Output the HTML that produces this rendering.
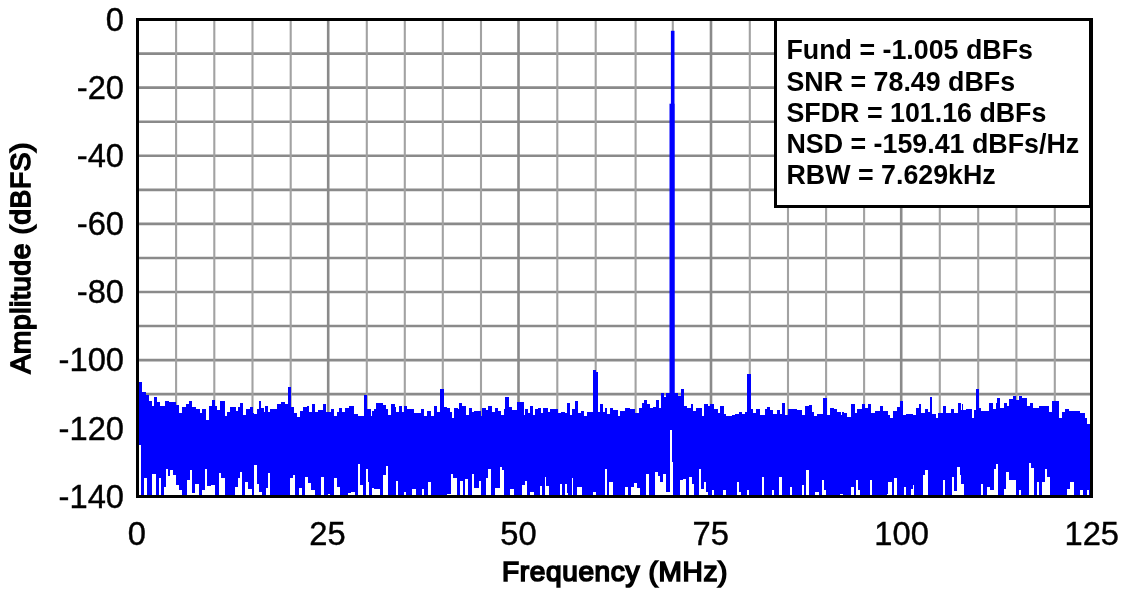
<!DOCTYPE html>
<html><head><meta charset="utf-8"><title>FFT Spectrum</title>
<style>
html,body{margin:0;padding:0;background:#fff;}
body{width:1125px;height:592px;overflow:hidden;}
svg{display:block;}
.tick{font-family:"Liberation Sans",Arial,sans-serif;font-size:32.7px;fill:#000;stroke:#000;stroke-width:0.4px;}
.leg{font-family:"Liberation Sans",Arial,sans-serif;font-size:26.8px;font-weight:bold;fill:#000;}
.ttl{font-family:"Liberation Sans",Arial,sans-serif;font-size:28px;fill:#000;stroke:#000;stroke-width:1.7px;letter-spacing:0.65px;}
</style></head>
<body>
<svg width="1125" height="592" viewBox="0 0 1125 592" shape-rendering="crispEdges">
<rect width="1125" height="592" fill="#fff"/>
<g shape-rendering="geometricPrecision"><line x1="137" y1="53.62" x2="1092" y2="53.62" stroke="#8a8a8a" stroke-width="2.6"/>
<line x1="137" y1="87.67" x2="1092" y2="87.67" stroke="#8a8a8a" stroke-width="2.6"/>
<line x1="137" y1="121.72" x2="1092" y2="121.72" stroke="#8a8a8a" stroke-width="2.6"/>
<line x1="137" y1="155.78" x2="1092" y2="155.78" stroke="#8a8a8a" stroke-width="2.6"/>
<line x1="137" y1="189.83" x2="1092" y2="189.83" stroke="#8a8a8a" stroke-width="2.6"/>
<line x1="137" y1="223.89" x2="1092" y2="223.89" stroke="#8a8a8a" stroke-width="2.6"/>
<line x1="137" y1="257.94" x2="1092" y2="257.94" stroke="#8a8a8a" stroke-width="2.6"/>
<line x1="137" y1="292.00" x2="1092" y2="292.00" stroke="#8a8a8a" stroke-width="2.6"/>
<line x1="137" y1="326.06" x2="1092" y2="326.06" stroke="#8a8a8a" stroke-width="2.6"/>
<line x1="137" y1="360.11" x2="1092" y2="360.11" stroke="#8a8a8a" stroke-width="2.6"/>
<line x1="137" y1="394.17" x2="1092" y2="394.17" stroke="#8a8a8a" stroke-width="2.6"/>
<line x1="137" y1="428.22" x2="1092" y2="428.22" stroke="#8a8a8a" stroke-width="2.6"/>
<line x1="137" y1="462.27" x2="1092" y2="462.27" stroke="#8a8a8a" stroke-width="2.6"/>
<line x1="176.10" y1="19" x2="176.10" y2="496" stroke="#a2a2a2" stroke-width="2.1"/>
<line x1="214.30" y1="19" x2="214.30" y2="496" stroke="#a2a2a2" stroke-width="2.1"/>
<line x1="252.50" y1="19" x2="252.50" y2="496" stroke="#a2a2a2" stroke-width="2.1"/>
<line x1="290.70" y1="19" x2="290.70" y2="496" stroke="#a2a2a2" stroke-width="2.1"/>
<line x1="328.20" y1="19" x2="328.20" y2="496" stroke="#8a8a8a" stroke-width="2.6"/>
<line x1="366.80" y1="19" x2="366.80" y2="496" stroke="#a2a2a2" stroke-width="2.1"/>
<line x1="404.80" y1="19" x2="404.80" y2="496" stroke="#a2a2a2" stroke-width="2.1"/>
<line x1="442.80" y1="19" x2="442.80" y2="496" stroke="#a2a2a2" stroke-width="2.1"/>
<line x1="481.00" y1="19" x2="481.00" y2="496" stroke="#a2a2a2" stroke-width="2.1"/>
<line x1="518.50" y1="19" x2="518.50" y2="496" stroke="#8a8a8a" stroke-width="2.6"/>
<line x1="557.30" y1="19" x2="557.30" y2="496" stroke="#a2a2a2" stroke-width="2.1"/>
<line x1="595.70" y1="19" x2="595.70" y2="496" stroke="#a2a2a2" stroke-width="2.1"/>
<line x1="635.60" y1="19" x2="635.60" y2="496" stroke="#a2a2a2" stroke-width="2.1"/>
<line x1="672.80" y1="19" x2="672.80" y2="496" stroke="#a2a2a2" stroke-width="2.1"/>
<line x1="711.00" y1="19" x2="711.00" y2="496" stroke="#8a8a8a" stroke-width="2.6"/>
<line x1="749.80" y1="19" x2="749.80" y2="496" stroke="#a2a2a2" stroke-width="2.1"/>
<line x1="788.00" y1="19" x2="788.00" y2="496" stroke="#a2a2a2" stroke-width="2.1"/>
<line x1="826.10" y1="19" x2="826.10" y2="496" stroke="#a2a2a2" stroke-width="2.1"/>
<line x1="864.10" y1="19" x2="864.10" y2="496" stroke="#a2a2a2" stroke-width="2.1"/>
<line x1="901.20" y1="19" x2="901.20" y2="496" stroke="#8a8a8a" stroke-width="2.6"/>
<line x1="939.80" y1="19" x2="939.80" y2="496" stroke="#a2a2a2" stroke-width="2.1"/>
<line x1="978.20" y1="19" x2="978.20" y2="496" stroke="#a2a2a2" stroke-width="2.1"/>
<line x1="1016.40" y1="19" x2="1016.40" y2="496" stroke="#a2a2a2" stroke-width="2.1"/>
<line x1="1054.80" y1="19" x2="1054.80" y2="496" stroke="#a2a2a2" stroke-width="2.1"/></g>
<path d="M139,496V382H142V392H146V395H149V401H152V406H154V397H157V402H160V406H165V401H169V402H176V405H179V413H182V407H186V404H189V401H192V407H196V409H200V413H202V409H206V420H209V406H212V400H215V406H217V410H220V401H225V416H227V412H230V407H236V411H238V407H240V403H243V415H246V409H250V407H253V413H254V414H257V409H259V401H261V408H264V412H265V406H268V412H270V409H277V404H281V402H285V404H288V387H291V407H294V413H297V417H300V411H303V407H307V406H309V412H312V404H315V412H318V410H323V404H326V412H331V409H334V416H337V412H339V408H342V412H345V408H349V406H354V414H358V416H364V395H367V409H371V416H372V411H374V409H376V403H383V405H386V409H388V415H391V404H395V407H396V412H399V406H402V412H404V406H407V409H414V413H421V409H424V416H427V411H431V416H434V406H437V412H440V389H444V407H447V408H450V412H452V418H454V408H458V409H459V403H462V406H466V415H469V408H472V412H474V411H481V416H482V408H486V410H488V406H492V412H495V408H498V411H501V415H504V409H505V397H509V407H512V410H517V402H524V415H525V409H528V413H530V406H533V415H535V409H538V408H541V413H543V408H548V412H550V409H558V413H561V412H565V413H567V403H570V415H572V409H575V401H578V413H581V411H584V416H587V412H593V370H596V372H598V412H600V404H603V412H605V408H607V414H610V408H613V410H618V416H620V411H625V408H630V409H635V413H639V408H642V403H644V400H647V404H650V408H653V407H656V400H659V408H661V393H664V397H666V393H678V396H681V389H684V406H687V408H691V404H693V411H696V408H702V416H704V404H708V406H710V404H714V409H718V413H720V406H724V414H726V416H732V415H735V414H739V412H742V414H745V412H747V374H751V409H753V413H756V409H760V415H765V409H767V407H770V410H773V414H777V410H780V414H782V403H785V415H788V409H797V410H802V415H805V406H809V405H812V412H814V416H817V414H823V398H827V415H830V408H834V409H837V412H841V415H842V412H844V413H847V417H851V404H855V413H857V409H862V404H865V408H868V404H871V413H875V411H880V406H883V411H888V415H890V418H893V411H897V407H900V401H903V415H906V414H913V415H916V408H919V404H921V413H925V409H928V412H930V397H932V414H936V418H938V413H943V406H946V413H951V409H954V413H958V403H961V410H962V404H963V410H966V409H972V418H974V410H976V389H979V408H981V411H989V403H993V409H996V403H997V398H1000V408H1004V403H1007V406H1009V399H1013V396H1016V400H1019V396H1022V398H1027V406H1030V403H1033V408H1039V406H1049V412H1052V401H1059V418H1062V412H1065V409H1069V411H1080V413H1085V418H1087V424H1091V496Z" fill="#0000ff"/>
<rect x="139" y="445" width="2" height="51" fill="#fff"/>
<rect x="144" y="478" width="3" height="18" fill="#fff"/>
<rect x="152" y="474" width="4" height="22" fill="#fff"/>
<rect x="159" y="478" width="2" height="18" fill="#fff"/>
<rect x="164" y="487" width="2" height="9" fill="#fff"/>
<rect x="166" y="469" width="2" height="27" fill="#fff"/>
<rect x="168" y="476" width="2" height="20" fill="#fff"/>
<rect x="170" y="470" width="3" height="26" fill="#fff"/>
<rect x="173" y="475" width="3" height="21" fill="#fff"/>
<rect x="176" y="485" width="3" height="11" fill="#fff"/>
<rect x="179" y="490" width="3" height="6" fill="#fff"/>
<rect x="187" y="480" width="3" height="16" fill="#fff"/>
<rect x="190" y="470" width="2" height="26" fill="#fff"/>
<rect x="192" y="493" width="3" height="3" fill="#fff"/>
<rect x="195" y="484" width="4" height="12" fill="#fff"/>
<rect x="202" y="490" width="3" height="6" fill="#fff"/>
<rect x="205" y="469" width="2" height="27" fill="#fff"/>
<rect x="207" y="486" width="4" height="10" fill="#fff"/>
<rect x="211" y="485" width="4" height="11" fill="#fff"/>
<rect x="219" y="473" width="2" height="23" fill="#fff"/>
<rect x="221" y="478" width="4" height="18" fill="#fff"/>
<rect x="235" y="487" width="3" height="9" fill="#fff"/>
<rect x="238" y="478" width="2" height="18" fill="#fff"/>
<rect x="240" y="472" width="2" height="24" fill="#fff"/>
<rect x="245" y="482" width="3" height="14" fill="#fff"/>
<rect x="248" y="489" width="4" height="7" fill="#fff"/>
<rect x="254" y="465" width="2" height="31" fill="#fff"/>
<rect x="254" y="465" width="3" height="31" fill="#fff"/>
<rect x="257" y="484" width="2" height="12" fill="#fff"/>
<rect x="259" y="492" width="3" height="4" fill="#fff"/>
<rect x="266" y="488" width="2" height="8" fill="#fff"/>
<rect x="268" y="473" width="2" height="23" fill="#fff"/>
<rect x="290" y="478" width="3" height="18" fill="#fff"/>
<rect x="293" y="475" width="2" height="21" fill="#fff"/>
<rect x="299" y="488" width="3" height="8" fill="#fff"/>
<rect x="305" y="477" width="3" height="19" fill="#fff"/>
<rect x="308" y="483" width="3" height="13" fill="#fff"/>
<rect x="311" y="490" width="4" height="6" fill="#fff"/>
<rect x="321" y="477" width="3" height="19" fill="#fff"/>
<rect x="328" y="494" width="2" height="2" fill="#fff"/>
<rect x="334" y="478" width="3" height="18" fill="#fff"/>
<rect x="337" y="487" width="3" height="9" fill="#fff"/>
<rect x="348" y="493" width="3" height="3" fill="#fff"/>
<rect x="351" y="492" width="4" height="4" fill="#fff"/>
<rect x="358" y="464" width="2" height="32" fill="#fff"/>
<rect x="360" y="485" width="3" height="11" fill="#fff"/>
<rect x="366" y="469" width="2" height="27" fill="#fff"/>
<rect x="368" y="482" width="1" height="14" fill="#fff"/>
<rect x="372" y="488" width="2" height="8" fill="#fff"/>
<rect x="372" y="489" width="8" height="7" fill="#fff"/>
<rect x="383" y="475" width="3" height="21" fill="#fff"/>
<rect x="386" y="466" width="2" height="30" fill="#fff"/>
<rect x="396" y="481" width="2" height="15" fill="#fff"/>
<rect x="404" y="492" width="2" height="4" fill="#fff"/>
<rect x="412" y="489" width="4" height="7" fill="#fff"/>
<rect x="422" y="489" width="2" height="7" fill="#fff"/>
<rect x="428" y="482" width="3" height="14" fill="#fff"/>
<rect x="447" y="494" width="4" height="2" fill="#fff"/>
<rect x="451" y="474" width="2" height="22" fill="#fff"/>
<rect x="453" y="478" width="4" height="18" fill="#fff"/>
<rect x="460" y="481" width="3" height="15" fill="#fff"/>
<rect x="465" y="479" width="3" height="17" fill="#fff"/>
<rect x="472" y="474" width="2" height="22" fill="#fff"/>
<rect x="474" y="488" width="5" height="8" fill="#fff"/>
<rect x="479" y="481" width="2" height="15" fill="#fff"/>
<rect x="486" y="478" width="2" height="18" fill="#fff"/>
<rect x="488" y="469" width="3" height="27" fill="#fff"/>
<rect x="490" y="469" width="1" height="27" fill="#fff"/>
<rect x="495" y="488" width="5" height="8" fill="#fff"/>
<rect x="500" y="467" width="2" height="29" fill="#fff"/>
<rect x="502" y="470" width="2" height="26" fill="#fff"/>
<rect x="510" y="489" width="4" height="7" fill="#fff"/>
<rect x="522" y="485" width="3" height="11" fill="#fff"/>
<rect x="525" y="481" width="2" height="15" fill="#fff"/>
<rect x="530" y="492" width="4" height="4" fill="#fff"/>
<rect x="540" y="486" width="2" height="10" fill="#fff"/>
<rect x="545" y="477" width="1" height="19" fill="#fff"/>
<rect x="546" y="486" width="3" height="10" fill="#fff"/>
<rect x="560" y="484" width="2" height="12" fill="#fff"/>
<rect x="565" y="484" width="2" height="12" fill="#fff"/>
<rect x="567" y="493" width="1" height="3" fill="#fff"/>
<rect x="572" y="478" width="1" height="18" fill="#fff"/>
<rect x="577" y="487" width="5" height="9" fill="#fff"/>
<rect x="593" y="492" width="3" height="4" fill="#fff"/>
<rect x="605" y="469" width="2" height="27" fill="#fff"/>
<rect x="609" y="482" width="1" height="14" fill="#fff"/>
<rect x="610" y="482" width="3" height="14" fill="#fff"/>
<rect x="625" y="487" width="3" height="9" fill="#fff"/>
<rect x="631" y="487" width="3" height="9" fill="#fff"/>
<rect x="634" y="483" width="3" height="13" fill="#fff"/>
<rect x="637" y="488" width="3" height="8" fill="#fff"/>
<rect x="646" y="474" width="3" height="22" fill="#fff"/>
<rect x="655" y="472" width="3" height="24" fill="#fff"/>
<rect x="658" y="476" width="2" height="20" fill="#fff"/>
<rect x="660" y="482" width="3" height="14" fill="#fff"/>
<rect x="663" y="474" width="3" height="22" fill="#fff"/>
<rect x="666" y="492" width="4" height="4" fill="#fff"/>
<rect x="670" y="430" width="2" height="66" fill="#fff"/>
<rect x="672" y="462" width="1" height="34" fill="#fff"/>
<rect x="680" y="480" width="3" height="16" fill="#fff"/>
<rect x="683" y="479" width="3" height="17" fill="#fff"/>
<rect x="689" y="477" width="3" height="19" fill="#fff"/>
<rect x="692" y="484" width="2" height="12" fill="#fff"/>
<rect x="699" y="469" width="2" height="27" fill="#fff"/>
<rect x="701" y="489" width="3" height="7" fill="#fff"/>
<rect x="704" y="482" width="2" height="14" fill="#fff"/>
<rect x="706" y="492" width="2" height="4" fill="#fff"/>
<rect x="712" y="490" width="2" height="6" fill="#fff"/>
<rect x="723" y="490" width="3" height="6" fill="#fff"/>
<rect x="737" y="482" width="2" height="14" fill="#fff"/>
<rect x="739" y="492" width="2" height="4" fill="#fff"/>
<rect x="747" y="490" width="2" height="6" fill="#fff"/>
<rect x="762" y="477" width="2" height="19" fill="#fff"/>
<rect x="772" y="490" width="2" height="6" fill="#fff"/>
<rect x="779" y="477" width="3" height="19" fill="#fff"/>
<rect x="790" y="487" width="2" height="9" fill="#fff"/>
<rect x="802" y="485" width="2" height="11" fill="#fff"/>
<rect x="806" y="470" width="3" height="26" fill="#fff"/>
<rect x="815" y="492" width="4" height="4" fill="#fff"/>
<rect x="822" y="480" width="2" height="16" fill="#fff"/>
<rect x="824" y="490" width="2" height="6" fill="#fff"/>
<rect x="840" y="494" width="3" height="2" fill="#fff"/>
<rect x="851" y="487" width="3" height="9" fill="#fff"/>
<rect x="856" y="480" width="2" height="16" fill="#fff"/>
<rect x="858" y="490" width="2" height="6" fill="#fff"/>
<rect x="870" y="480" width="2" height="16" fill="#fff"/>
<rect x="887" y="494" width="1" height="2" fill="#fff"/>
<rect x="888" y="482" width="4" height="14" fill="#fff"/>
<rect x="894" y="478" width="3" height="18" fill="#fff"/>
<rect x="904" y="487" width="2" height="9" fill="#fff"/>
<rect x="911" y="489" width="2" height="7" fill="#fff"/>
<rect x="913" y="485" width="1" height="11" fill="#fff"/>
<rect x="923" y="475" width="2" height="21" fill="#fff"/>
<rect x="925" y="470" width="3" height="26" fill="#fff"/>
<rect x="943" y="480" width="2" height="16" fill="#fff"/>
<rect x="952" y="477" width="2" height="19" fill="#fff"/>
<rect x="954" y="491" width="3" height="5" fill="#fff"/>
<rect x="957" y="467" width="3" height="29" fill="#fff"/>
<rect x="960" y="475" width="1" height="21" fill="#fff"/>
<rect x="961" y="484" width="3" height="12" fill="#fff"/>
<rect x="962" y="486" width="2" height="10" fill="#fff"/>
<rect x="981" y="484" width="2" height="12" fill="#fff"/>
<rect x="987" y="487" width="3" height="9" fill="#fff"/>
<rect x="990" y="490" width="4" height="6" fill="#fff"/>
<rect x="994" y="469" width="2" height="27" fill="#fff"/>
<rect x="996" y="464" width="2" height="32" fill="#fff"/>
<rect x="1004" y="489" width="2" height="7" fill="#fff"/>
<rect x="1006" y="472" width="3" height="24" fill="#fff"/>
<rect x="1009" y="480" width="7" height="16" fill="#fff"/>
<rect x="1019" y="490" width="2" height="6" fill="#fff"/>
<rect x="1029" y="463" width="2" height="33" fill="#fff"/>
<rect x="1031" y="468" width="3" height="28" fill="#fff"/>
<rect x="1037" y="482" width="2" height="14" fill="#fff"/>
<rect x="1042" y="482" width="3" height="14" fill="#fff"/>
<rect x="1045" y="469" width="2" height="27" fill="#fff"/>
<rect x="1047" y="477" width="3" height="19" fill="#fff"/>
<rect x="1067" y="489" width="3" height="7" fill="#fff"/>
<rect x="1070" y="482" width="4" height="14" fill="#fff"/>
<rect x="1080" y="490" width="3" height="6" fill="#fff"/>
<rect x="1087" y="490" width="2" height="6" fill="#fff"/>
<rect x="670.9" y="30.8" width="3.6" height="380" fill="#0000ff" shape-rendering="geometricPrecision"/>
<rect x="669.5" y="103.7" width="5" height="300" fill="#0000ff" shape-rendering="geometricPrecision"/>
<rect x="137.5" y="19.5" width="954" height="477" fill="none" stroke="#000" stroke-width="3"/>
<rect x="775.5" y="19.5" width="314.5" height="187" fill="#fff" stroke="#000" stroke-width="3"/>
<text x="786.5" y="59.2" class="leg">Fund = -1.005 dBFs</text>
<text x="786.5" y="90.5" class="leg">SNR = 78.49 dBFs</text>
<text x="786.5" y="121.8" class="leg">SFDR = 101.16 dBFs</text>
<text x="786.5" y="153.1" class="leg">NSD = -159.41 dBFs/Hz</text>
<text x="786.5" y="184.4" class="leg">RBW = 7.629kHz</text>
<text x="124" y="30.9" class="tick" text-anchor="end">0</text>
<text x="124" y="99.0" class="tick" text-anchor="end">-20</text>
<text x="124" y="167.1" class="tick" text-anchor="end">-40</text>
<text x="124" y="235.2" class="tick" text-anchor="end">-60</text>
<text x="124" y="303.3" class="tick" text-anchor="end">-80</text>
<text x="124" y="371.4" class="tick" text-anchor="end">-100</text>
<text x="124" y="439.5" class="tick" text-anchor="end">-120</text>
<text x="124" y="507.6" class="tick" text-anchor="end">-140</text>
<text x="136.9" y="544.8" class="tick" text-anchor="middle">0</text>
<text x="327.5" y="544.8" class="tick" text-anchor="middle">25</text>
<text x="518.5" y="544.8" class="tick" text-anchor="middle">50</text>
<text x="710.8" y="544.8" class="tick" text-anchor="middle">75</text>
<text x="901.6" y="544.8" class="tick" text-anchor="middle">100</text>
<text x="1091.8" y="544.8" class="tick" text-anchor="middle">125</text>
<text x="502" y="581" class="ttl">Frequency (MHz)</text>
<text transform="translate(29.5,257.7) rotate(-90)" x="0" y="0" class="ttl" text-anchor="middle">Amplitude (dBFS)</text>
</svg>
</body></html>
